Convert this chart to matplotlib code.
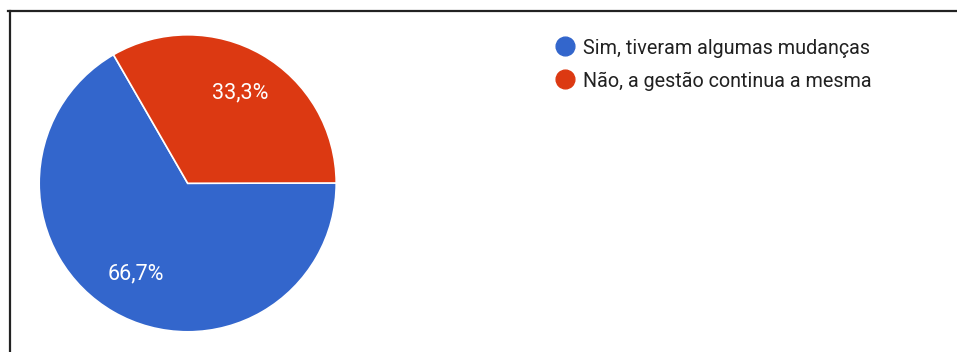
import matplotlib
matplotlib.use('Agg')
import matplotlib.pyplot as plt
from matplotlib.lines import Line2D

plt.rcParams['font.family'] = ['Roboto', 'DejaVu Sans']

labels = ['Sim, tiveram algumas mudanças', 'Não, a gestão continua a mesma']
values = [66.7, 33.3]
colors = ['#3366CC', '#DC3912']

W, H = 957, 352
fig = plt.figure(figsize=(W / 100, H / 100), dpi=100)
fig.patch.set_facecolor('white')

# pie axes, placed in pixel terms (center 187.7,183.3 from top, r=148.5)
cx, cy, r = 187.7, H - 183.3, 148.5
ax = fig.add_axes([(cx - r) / W, (cy - r) / H, 2 * r / W, 2 * r / H])
wedges, texts, autotexts = ax.pie(
    values, colors=colors, startangle=120, counterclock=True,
    autopct=lambda p: f'{p:.1f}%'.replace('.', ','), pctdistance=0.705,
    wedgeprops=dict(edgecolor='white', linewidth=1.2),
    textprops=dict(color='white', fontsize=15.5))
ax.set_xlim(-1, 1)
ax.set_ylim(-1, 1)
ax.axis('off')

# legend rows
for i, (lab, col) in enumerate(zip(labels, colors)):
    y = H - (46 + i * 33)
    fig.add_artist(Line2D([565 / W], [y / H], marker='o', markersize=13.5,
                          color=col, transform=fig.transFigure))
    fig.text(583 / W, y / H, lab, fontsize=14.2, color='#212121',
             va='center_baseline', ha='left')

# frame lines along the top and left
fig.add_artist(Line2D([8 / W, 1], [1 - 11 / H, 1 - 11 / H], color='#222222',
                      linewidth=1.6, transform=fig.transFigure))
fig.add_artist(Line2D([9.5 / W, 9.5 / W], [0, 1 - 11 / H], color='#222222',
                      linewidth=1.6, transform=fig.transFigure))

fig.savefig('out.png', dpi=100, facecolor='white')
